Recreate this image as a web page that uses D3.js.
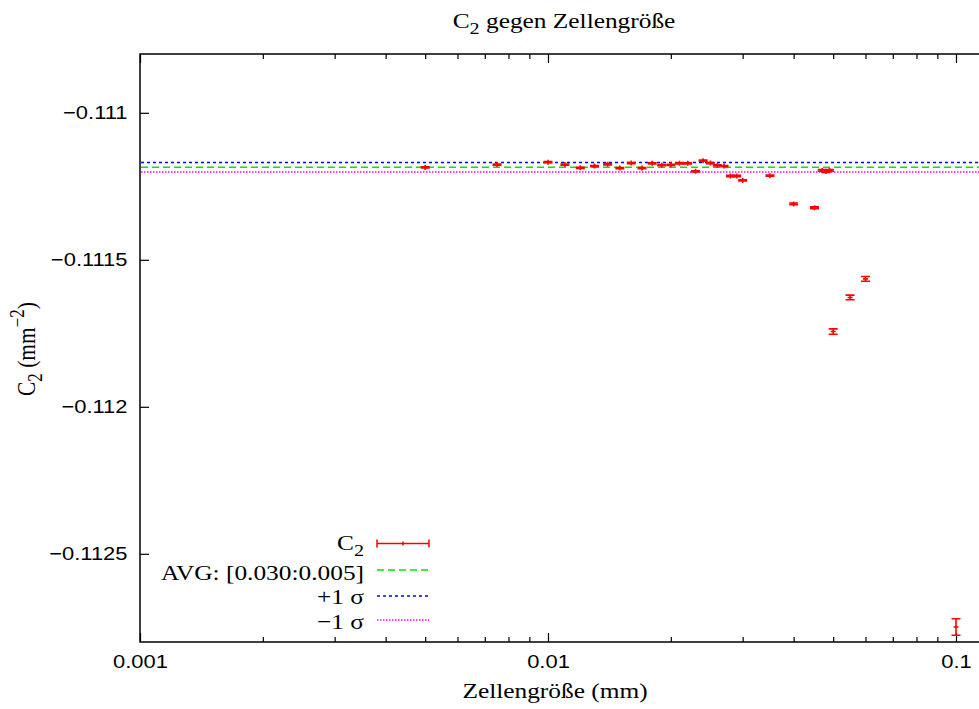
<!DOCTYPE html>
<html>
<head>
<meta charset="utf-8">
<script src="https://cdn.jsdelivr.net/npm/d3@7"></script>
<style>
  body { margin: 0; background: #fff; }
  svg { display: block; }
  .tick text { font-family: "Liberation Sans", Arial, sans-serif; font-size: 18.6px; fill: #000; }
  .serif { font-family: "Liberation Serif", "Times New Roman", serif; font-size: 21.5px; fill: #000; }
</style>
</head>
<body>
<svg width="979" height="709"></svg>
<script>
const svg = d3.select('svg')

// cell size (mm) and fitted C2 (mm^-2) with its error
const cellSize = [0.005, 0.0075, 0.01, 0.011, 0.012, 0.013, 0.014, 0.015, 0.016, 0.017,
  0.018, 0.019, 0.020, 0.021, 0.022, 0.023, 0.024, 0.025, 0.026, 0.027,
  0.028, 0.029, 0.030, 0.035, 0.040, 0.045, 0.047, 0.048, 0.049, 0.050,
  0.055, 0.060, 0.100];
const c2 = [-0.111186, -0.111176, -0.111168, -0.111176, -0.111187, -0.111181, -0.111175, -0.111188, -0.111171, -0.111188,
  -0.111172, -0.111178, -0.111177, -0.111172, -0.111172, -0.111199, -0.111163, -0.111171, -0.111179, -0.111181,
  -0.111215, -0.111215, -0.111230, -0.111214, -0.111310, -0.111323, -0.111196, -0.111200, -0.111196, -0.111744,
  -0.111628, -0.111565, -0.112749];
const c2Err = [2e-6, 2e-6, 2e-6, 2e-6, 2e-6, 2e-6, 2e-6, 2e-6, 2e-6, 2e-6,
  2e-6, 2e-6, 2e-6, 2e-6, 2e-6, 2e-6, 2e-6, 2e-6, 2e-6, 2e-6,
  2e-6, 2e-6, 2e-6, 2e-6, 3e-6, 3e-6, 3e-6, 3e-6, 3e-6, 9e-6,
  8e-6, 8e-6, 2.8e-5];

// average over [0.030:0.005] and +-1 sigma
const avgVal = -0.111185;
const plusSigma = -0.111169;
const minusSigma = -0.111201;

const xTicks = [0.001, 0.01, 0.1];
const yTicks = [-0.111, -0.1115, -0.112, -0.1125];

const plotLeft = 140, plotTop = 54, plotBottom = 642, rightEdge = 981;
// the original picture is a bit wider than tall, so glyphs are stretched sideways
const sx = 1.18;

const x = d3.scaleLog().domain([0.001, 0.1]).range([plotLeft, 956]);
const y = d3.scaleLinear().domain([-0.1128, -0.1108]).range([plotBottom, plotTop]);

const minorTicks = [];
[0.001, 0.01, 0.1].forEach(dec => {
  for (let k = 2; k <= 9; k++) {
    const v = dec * k;
    if (x(v) < rightEdge) minorTicks.push(v);
  }
});

const fmt = d => String(d).replace('-', '\u2212');

// bottom axis with labels
const xAxisG = svg.append('g')
  .attr('transform', `translate(0, ${plotBottom})`)
  .call(d3.axisBottom(x).tickValues(xTicks).tickFormat(d => String(d))
    .tickSize(-9).tickPadding(13));
xAxisG.select('.domain').remove();
xAxisG.selectAll('text').attr('transform', `scale(${sx},1)`);

svg.append('g')
  .attr('transform', `translate(0, ${plotBottom})`)
  .call(d3.axisBottom(x).tickValues(minorTicks).tickFormat('').tickSize(-5))
  .select('.domain').remove();

// mirrored top ticks
svg.append('g')
  .attr('transform', `translate(0, ${plotTop})`)
  .call(d3.axisTop(x).tickValues(xTicks).tickFormat('').tickSize(-9))
  .select('.domain').remove();
svg.append('g')
  .attr('transform', `translate(0, ${plotTop})`)
  .call(d3.axisTop(x).tickValues(minorTicks).tickFormat('').tickSize(-5))
  .select('.domain').remove();

// left axis
const yAxisG = svg.append('g')
  .attr('transform', `translate(${plotLeft}, 0)`)
  .call(d3.axisLeft(y).tickValues(yTicks).tickFormat(fmt).tickSize(-9));
yAxisG.select('.domain').remove();
yAxisG.selectAll('text')
  .attr('x', -12.5 / sx)
  .attr('transform', `scale(${sx},1)`);

svg.selectAll('.tick line').attr('stroke', '#000').attr('stroke-width', 1.2);

// frame (right side falls outside the picture)
svg.append('path')
  .attr('d', `M${rightEdge},${plotTop}H${plotLeft}V${plotBottom}H${rightEdge}`)
  .attr('fill', 'none')
  .attr('stroke', '#000')
  .attr('stroke-width', 1.5);

// horizontal reference lines
const refLines = [
  { v: avgVal, color: '#00e600', dash: '7,4' },
  { v: plusSigma, color: '#0000ff', dash: '3,3' },
  { v: minusSigma, color: '#ff00ff', dash: '1.5,1.5' }
];
svg.selectAll('.ref')
  .data(refLines)
  .join('line')
  .attr('x1', plotLeft + 1)
  .attr('x2', rightEdge)
  .attr('y1', d => y(d.v))
  .attr('y2', d => y(d.v))
  .attr('stroke', d => d.color)
  .attr('stroke-width', 1.5)
  .attr('stroke-dasharray', d => d.dash);

// error bars
const pts = cellSize.map((c, i) => ({ x: c, y: c2[i], e: c2Err[i] }));
const cap = 4.5;
const eb = svg.append('g')
  .attr('stroke', '#ff0000')
  .attr('stroke-width', 1.6)
  .attr('fill', 'none');
eb.selectAll('path')
  .data(pts)
  .join('path')
  .attr('d', d => {
    const px = x(d.x), y1 = y(d.y + d.e), y2 = y(d.y - d.e), py = y(d.y);
    return `M${px},${y1}V${y2}` +
      `M${px - cap},${y1}H${px + cap}` +
      `M${px - cap},${y2}H${px + cap}` +
      `M${px - 2.5},${py}H${px + 2.5}` +
      `M${px},${py - 2.5}V${py + 2.5}`;
  });

// stretched serif text anchored at (tx, ty)
function label(tx, ty, anchor) {
  return svg.append('text').attr('class', 'serif')
    .attr('transform', `translate(${tx},${ty}) scale(${sx},1)`)
    .attr('text-anchor', anchor);
}

// legend
const legX = 364, sx1 = 377, sx2 = 429;
const legRows = [543.5, 570, 596, 620];
const legBase = [549.5, 579.5, 603.5, 629];

const c2Label = label(legX, legBase[0], 'end');
c2Label.append('tspan').text('C');
c2Label.append('tspan').attr('font-size', 17).attr('dy', 6).text('2');

svg.append('path')
  .attr('d', `M${sx1},${legRows[0]}H${sx2}M${sx1},${legRows[0] - 4}V${legRows[0] + 4}` +
    `M${sx2},${legRows[0] - 4}V${legRows[0] + 4}M${(sx1 + sx2) / 2},${legRows[0] - 2}V${legRows[0] + 2}`)
  .attr('stroke', '#ff0000').attr('stroke-width', 1.5).attr('fill', 'none');

const legText = ['AVG: [0.030:0.005]', '+1 \u03c3', '\u22121 \u03c3'];
legText.forEach((t, i) => {
  const ry = legRows[i + 1];
  label(legX, legBase[i + 1], 'end').text(t);
  svg.append('line')
    .attr('x1', sx1).attr('x2', sx2).attr('y1', ry).attr('y2', ry)
    .attr('stroke', refLines[i].color).attr('stroke-width', 1.5)
    .attr('stroke-dasharray', refLines[i].dash);
});

// title
const title = label(564, 28, 'middle');
title.append('tspan').text('C');
title.append('tspan').attr('font-size', 17).attr('dy', 6).text('2');
title.append('tspan').attr('dy', -6).text(' gegen Zellengröße');

// x label
label(555, 698, 'middle').text('Zellengröße (mm)');

// y label, rotated; the sideways stretch becomes a stretch of glyph height
const yl = svg.append('text').attr('class', 'serif')
  .attr('transform', `translate(35, 349) rotate(-90) scale(1,${sx})`)
  .attr('text-anchor', 'middle');
yl.append('tspan').text('C');
yl.append('tspan').attr('font-size', 17).attr('dy', 6).text('2');
yl.append('tspan').attr('dy', -6).text(' (mm');
yl.append('tspan').attr('font-size', 17).attr('dy', -9).text('\u22122');
yl.append('tspan').attr('dy', 9).text(')');
</script>
</body>
</html>
